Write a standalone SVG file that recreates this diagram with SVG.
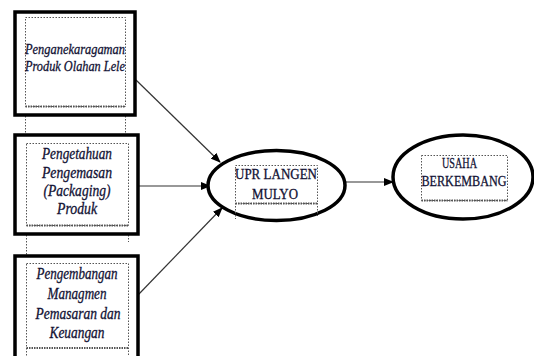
<svg xmlns="http://www.w3.org/2000/svg" width="534" height="356" viewBox="0 0 534 356">
<style>
.box{fill:#fff;stroke:#000;stroke-width:3.5}
.ell{fill:#fff;stroke:#000;stroke-width:3.5}
.dot{fill:none;stroke:#555;stroke-width:1;stroke-dasharray:1.5 1.5}
.dbl{fill:none;stroke:#555;stroke-width:2;stroke-dasharray:1.5 1}
text{font-family:"Times New Roman","Liberation Serif","DejaVu Serif",serif;font-size:16px;fill:#111133;stroke:#111133;stroke-width:0.3;text-anchor:middle}
.it{font-style:italic}
.sm{font-size:15px}
.con{stroke:#333;stroke-width:1.2;fill:none}
</style>
<defs>
<marker id="ah" markerWidth="10" markerHeight="8" refX="9" refY="4" orient="auto" markerUnits="userSpaceOnUse">
<path d="M0,0 L10,4 L0,8 Z" fill="#000"/>
</marker>
</defs>
<g id="connectors">
<line class="con" x1="136" y1="80" x2="220" y2="162" marker-end="url(#ah)"/>
<line class="con" x1="138" y1="186" x2="210" y2="186" marker-end="url(#ah)"/>
<line class="con" x1="138" y1="295" x2="222" y2="208" marker-end="url(#ah)"/>
<line class="con" x1="345" y1="182" x2="393" y2="182" marker-end="url(#ah)"/>
</g>
<g id="guides">
<line class="dot" x1="25.5" y1="107" x2="25.5" y2="135"/>
<line class="dot" x1="125.5" y1="107" x2="125.5" y2="133"/>
<line class="dot" x1="26.5" y1="226" x2="26.5" y2="256"/>
<line class="dot" x1="128.5" y1="226" x2="128.5" y2="242"/>
</g>
<g id="node1">
<rect class="box" x="15" y="12" width="120" height="103"/>
<rect class="dot" x="25.5" y="17.5" width="100" height="89"/>
<line class="dbl" x1="25.5" y1="106.5" x2="125.5" y2="106.5"/>
<text class="it sm" x="75" y="54" textLength="100" lengthAdjust="spacingAndGlyphs">Penganekaragaman</text>
<text class="it sm" x="75" y="71" textLength="100" lengthAdjust="spacingAndGlyphs">Produk Olahan Lele</text>
</g>
<g id="node2">
<rect class="box" x="15" y="135" width="123" height="99"/>
<rect class="dot" x="26.5" y="143.5" width="102" height="82"/>
<line class="dbl" x1="26.5" y1="225.5" x2="128.5" y2="225.5"/>
<text class="it" x="77" y="159" textLength="70" lengthAdjust="spacingAndGlyphs">Pengetahuan</text>
<text class="it" x="77" y="178" textLength="70" lengthAdjust="spacingAndGlyphs">Pengemasan</text>
<text class="it" x="77" y="196" textLength="67" lengthAdjust="spacingAndGlyphs">(Packaging)</text>
<text class="it" x="77" y="214" textLength="40" lengthAdjust="spacingAndGlyphs">Produk</text>
</g>
<g id="node3">
<rect class="box" x="15" y="256" width="123" height="110"/>
<rect class="dot" x="26.5" y="263.5" width="102" height="100"/>
<line class="dbl" x1="26.5" y1="348" x2="128.5" y2="348"/>
<text class="it" x="77" y="279" textLength="81" lengthAdjust="spacingAndGlyphs">Pengembangan</text>
<text class="it" x="77" y="299" textLength="59" lengthAdjust="spacingAndGlyphs">Managmen</text>
<text class="it" x="78" y="319" textLength="85" lengthAdjust="spacingAndGlyphs">Pemasaran dan</text>
<text class="it" x="77" y="338" textLength="55" lengthAdjust="spacingAndGlyphs">Keuangan</text>
</g>
<g id="node4">
<ellipse class="ell" cx="276.5" cy="185.5" rx="68.5" ry="35"/>
<rect class="dot" x="235.5" y="165.5" width="82" height="38"/>
<line class="dbl" x1="235.5" y1="203.5" x2="317.5" y2="203.5"/>
<line class="dot" x1="235.5" y1="203" x2="235.5" y2="219"/>
<line class="dot" x1="317.5" y1="203" x2="317.5" y2="216"/>
<text class="sm" x="276" y="179" textLength="82" lengthAdjust="spacingAndGlyphs">UPR LANGEN</text>
<text class="sm" x="275" y="199" textLength="46" lengthAdjust="spacingAndGlyphs">MULYO</text>
</g>
<g id="node5">
<ellipse class="ell" cx="463" cy="177" rx="70" ry="42"/>
<rect class="dot" x="421.5" y="155.5" width="86" height="45"/>
<line class="dbl" x1="421.5" y1="200.5" x2="507.5" y2="200.5"/>
<text class="sm" x="459.5" y="168" textLength="35" lengthAdjust="spacingAndGlyphs">USAHA</text>
<text class="sm" x="464" y="186" textLength="85" lengthAdjust="spacingAndGlyphs">BERKEMBANG</text>
</g>
</svg>
